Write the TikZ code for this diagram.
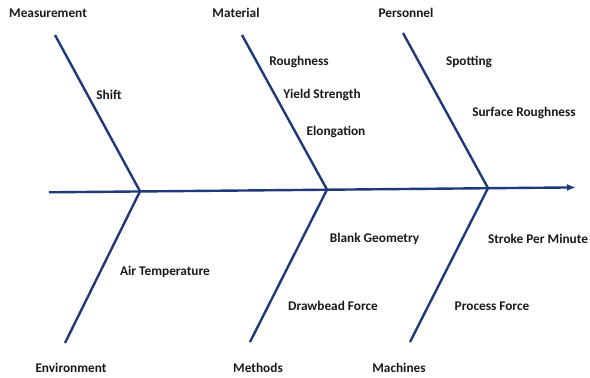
\documentclass[tikz,border=0pt]{standalone}
\usepackage{fontspec}
\setmainfont{Carlito}
\usetikzlibrary{arrows.meta}
\definecolor{bone}{RGB}{31,58,122}
\tikzset{
  bonestyle/.style={draw=bone, line width=2.4pt},
  lbl/.style={font=\bfseries\fontsize{13.3}{15}\selectfont, text=black!90, inner sep=0pt},
}
\begin{document}
\begin{tikzpicture}[x=1pt,y=-1pt]
\useasboundingbox (0,0) rectangle (590,378);
% spine
\coordinate (s0) at (49,192.3);
\coordinate (s1) at (576,187.4);
\coordinate (j1) at (140,191.3);
\coordinate (j2) at (327,189.6);
\coordinate (j3) at (488,188.1);
\draw[bonestyle, -{Latex[length=9pt,width=7pt]}] (s0) -- (s1);
% bones
\coordinate (t1) at (55,35);
\coordinate (t2) at (242,35);
\coordinate (t3) at (403,33);
\coordinate (b1) at (65,343);
\coordinate (b2) at (250,342);
\coordinate (b3) at (410,342);
\draw[bonestyle] (t1) -- (j1) -- (b1);
\draw[bonestyle] (t2) -- (j2) -- (b2);
\draw[bonestyle] (t3) -- (j3) -- (b3);
% category labels
\node[lbl] (measurement) at (48,13) {Measurement};
\node[lbl] (material) at (236,13) {Material};
\node[lbl] (personnel) at (406,13) {Personnel};
\node[lbl] (environment) at (71,368) {Environment};
\node[lbl] (methods) at (258,368) {Methods};
\node[lbl] (machines) at (399,368) {Machines};
% causes
\node[lbl] (shift) at (109,95) {Shift};
\node[lbl] (roughness) at (299,62) {Roughness};
\node[lbl] (yield) at (322,95) {Yield Strength};
\node[lbl] (elong) at (336,132) {Elongation};
\node[lbl] (spotting) at (469,62) {Spotting};
\node[lbl] (surf) at (524,113) {Surface Roughness};
\node[lbl] (air) at (165,272) {Air Temperature};
\node[lbl] (blank) at (374.5,239) {Blank Geometry};
\node[lbl] (drawbead) at (333,306) {Drawbead Force};
\node[lbl] (stroke) at (538,239) {Stroke Per Minute};
\node[lbl] (process) at (492,306) {Process Force};
\end{tikzpicture}
\end{document}
